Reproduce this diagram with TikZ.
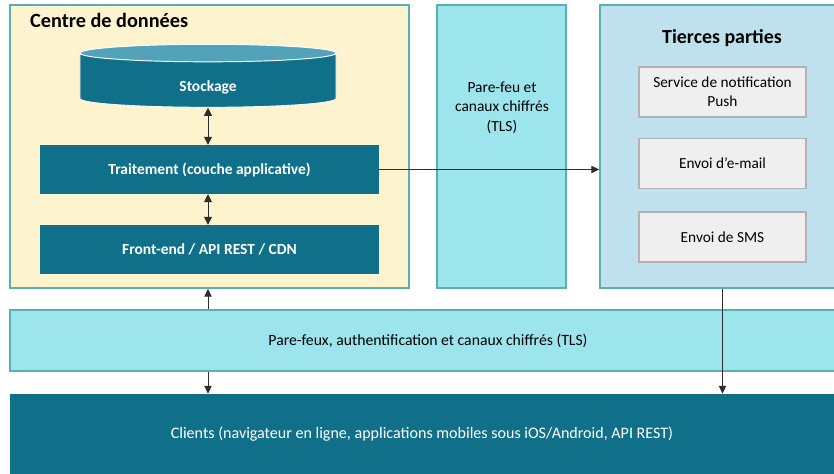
\documentclass[tikz,border=0pt]{standalone}
\usepackage{fontspec}
\setmainfont{Carlito}
\usetikzlibrary{shapes.geometric, arrows.meta, positioning}

\definecolor{tealline}{RGB}{88,176,178}
\definecolor{creamfill}{RGB}{253,243,207}
\definecolor{darkteal}{RGB}{16,112,138}
\definecolor{disktop}{RGB}{82,162,186}
\definecolor{cyanfill}{RGB}{157,229,237}
\definecolor{skyfill}{RGB}{190,225,237}
\definecolor{greyfill}{RGB}{239,239,239}
\definecolor{greyline}{RGB}{178,178,178}
\definecolor{arrowgrey}{RGB}{45,45,45}

\begin{document}
\begin{tikzpicture}[
    x=0.03cm, y=-0.03cm,
    zone/.style={rectangle, draw=tealline, line width=1.2pt, inner sep=0pt},
    layer/.style={rectangle, fill=darkteal, text=white, minimum width=10.17cm, minimum height=1.47cm, font=\fontsize{13.2}{16}\selectfont\bfseries},
    service/.style={rectangle, draw=greyline, line width=1pt, fill=greyfill, minimum width=5.01cm, minimum height=1.5cm, align=center, font=\fontsize{13.1}{16.2}\selectfont},
    arrow/.style={arrowgrey, line width=0.8pt, -{Triangle[length=2.4mm,width=2.2mm]}},
    biarrow/.style={arrowgrey, line width=0.8pt, {Triangle[length=2.4mm,width=2.4mm]}-{Triangle[length=2.4mm,width=2.4mm]}},
]
    \clip (0,0) rectangle (834,474);
    \fill[white] (0,0) rectangle (834,474);

    % data centre
    \node (centre) [zone, fill=creamfill, minimum width=11.97cm, minimum height=8.49cm] at (209.5,146.5) {};
    \node (centre_title) [anchor=west, font=\fontsize{17.3}{20}\selectfont\bfseries] at (26,20) {Centre de données};

    \node (stockage) [cylinder, shape border rotate=90, aspect=0.27, draw=white, line width=0.8pt,
        cylinder uses custom fill, cylinder body fill=darkteal, cylinder end fill=disktop,
        minimum width=7.68cm, minimum height=1.89cm, text height=0.6cm, text depth=0cm,
        text=white, font=\fontsize{13.2}{16}\selectfont\bfseries] at (208,81.5) {Stockage};

    \node (traitement) [layer] at (209.5,169.5) {Traitement (couche applicative)};
    \node (frontend) [layer] at (209.5,249.5) {Front-end / API REST / CDN};

    % firewall column
    \node (parefeu) [zone, fill=cyanfill, minimum width=3.87cm, minimum height=8.49cm] at (501.5,146.5) {};
    \node (parefeu_txt) [align=center, font=\fontsize{13.2}{16.6}\selectfont] at (502,107.5) {Pare-feu et\\canaux chiffrés\\(TLS)};

    % third parties
    \node (tierces) [zone, fill=skyfill, minimum width=7.8cm, minimum height=8.49cm] at (730,146.5) {};
    \node (tierces_title) [font=\fontsize{17}{20}\selectfont\bfseries] at (722,38) {Tierces parties};
    \node (push) [service] at (722.5,92) {Service de notification\\Push};
    \node (email) [service] at (722.5,163.5) {Envoi d’e-mail};
    \node (sms) [service] at (722.5,237) {Envoi de SMS};

    % bottom bands
    \node (parefeux) [zone, fill=cyanfill, minimum width=25.08cm, minimum height=1.83cm, font=\fontsize{13.4}{16}\selectfont] at (428,340.5) {Pare-feux, authentification et canaux chiffrés (TLS)};
    \node (clients) [rectangle, fill=darkteal, text=white, minimum width=24.72cm, minimum height=2.4cm, font=\fontsize{13.7}{16}\selectfont] at (422,434) {Clients (navigateur en ligne, applications mobiles sous iOS/Android, API REST)};

    \draw [biarrow] (stockage.south) -- (stockage.south |- traitement.north);
    \draw [biarrow] (traitement.south -| stockage.south) -- (frontend.north -| stockage.south);
    \draw [arrow] (traitement.east) -- (traitement.east -| tierces.west);
    \draw [arrow] (parefeux.north -| stockage.south) -- (centre.south -| stockage.south);
    \draw [arrow] (parefeux.south -| stockage.south) -- (clients.north -| stockage.south);
    \draw [arrow] (tierces.south -| sms.south) -- (clients.north -| sms.south);

\end{tikzpicture}
\end{document}
